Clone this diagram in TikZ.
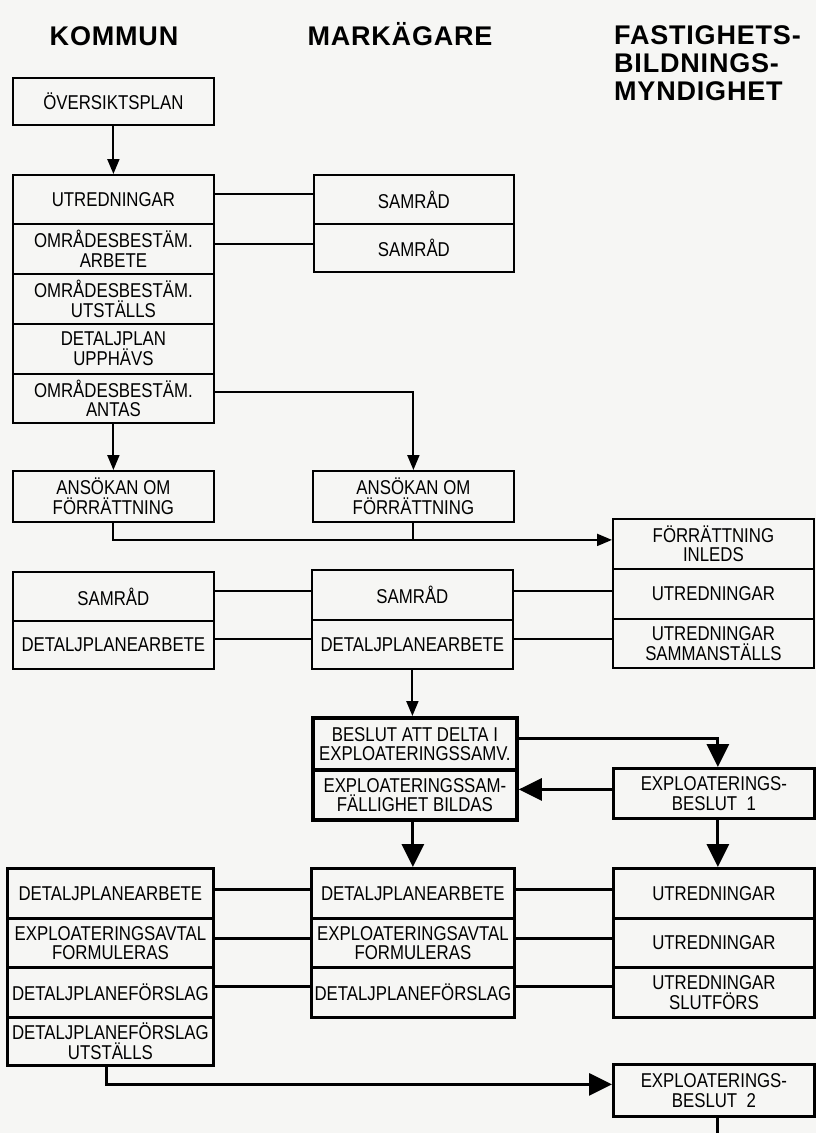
\documentclass[tikz,border=0pt]{standalone}
\usepackage{fontspec}
\setmainfont{Liberation Sans}
\newfontfamily\boxfont{Liberation Sans}[FakeStretch=0.84]
\newfontfamily\headfont{Liberation Sans}[LetterSpace=3]
\usetikzlibrary{arrows.meta}

\definecolor{paper}{RGB}{246,246,244}

\tikzset{
  box/.style={draw, rectangle, inner sep=0pt, align=center, line width=1.8pt,
    font=\boxfont\fontsize{20}{19.5}\selectfont},
  boldbox/.style={line width=2.8pt},
  heavy/.style={line width=3.8pt},
  head/.style={inner sep=0pt, font=\headfont\fontsize{27}{27}\selectfont\bfseries},
  conn/.style={line width=2pt},
  thick conn/.style={line width=3pt},
  arr/.style={-{Triangle[length=15pt,width=12pt]}},
  bigarr/.style={-{Triangle[length=23pt,width=22pt]}},
}

% \bx[style]{name}{x,y of top-left}{width}{height}{text}
\newcommand{\bx}[6][]{%
  \node[box,#1,minimum width=#4pt,minimum height=#5pt,anchor=north west] (#2) at (#3) {#6};}

\begin{document}
\begin{tikzpicture}[x=1pt,y=-1pt]
\fill[paper] (0,0) rectangle (816,1133);
\useasboundingbox (0,0) rectangle (816,1133);

% column headings
\node[head,anchor=base] (hk) at (114,45) {KOMMUN};
\node[head,anchor=base] (hm) at (400,45) {MARKÄGARE};
\node[head,anchor=base west] (hf1) at (614,44) {FASTIGHETS-};
\node[head,anchor=base west] (hf2) at (614,72) {BILDNINGS-};
\node[head,anchor=base west] (hf3) at (614,100) {MYNDIGHET};

% planning stage
\bx{ovp}{12,77}{201}{47}{ÖVERSIKTSPLAN}
\bx{k1}{12,174}{201}{49}{UTREDNINGAR}
\bx{k2}{12,223}{201}{50}{OMRÅDESBESTÄM.\\ARBETE}
\bx{k3}{12,273}{201}{50}{OMRÅDESBESTÄM.\\UTSTÄLLS}
\bx{k4}{12,323}{201}{50}{DETALJPLAN\\UPPHÄVS}
\bx{k5}{12,373}{201}{49}{OMRÅDESBESTÄM.\\ANTAS}
\bx{m1}{313,174}{200}{49}{SAMRÅD}
\bx{m2}{313,223}{200}{48}{SAMRÅD}

% application
\bx{ka}{12,470}{201}{51}{ANSÖKAN OM\\FÖRRÄTTNING}
\bx{ma}{312,470}{201}{51}{ANSÖKAN OM\\FÖRRÄTTNING}
\bx{f1}{612,518}{201}{50}{FÖRRÄTTNING\\INLEDS}
\bx{f2}{612,568}{201}{50}{UTREDNINGAR}
\bx{f3}{612,618}{201}{49}{UTREDNINGAR\\SAMMANSTÄLLS}
\bx{ks}{12,571}{201}{49}{SAMRÅD}
\bx{kd}{12,620}{201}{48}{DETALJPLANEARBETE}
\bx{ms}{311,569}{201}{50}{SAMRÅD}
\bx{md}{311,619}{201}{49}{DETALJPLANEARBETE}

% exploitation
\bx[heavy]{b1}{311,716}{204}{52}{BESLUT ATT DELTA I\\EXPLOATERINGSSAMV.}
\bx[heavy]{b2}{311,768}{204}{50}{EXPLOATERINGSSAM-\\FÄLLIGHET BILDAS}
\bx[boldbox]{e1}{612,767}{201}{50}{EXPLOATERINGS-\\BESLUT\ \ 1}

\bx[boldbox]{kb1}{6,867}{206}{50}{DETALJPLANEARBETE}
\bx[boldbox]{kb2}{6,917}{206}{49}{EXPLOATERINGSAVTAL\\FORMULERAS}
\bx[boldbox]{kb3}{6,966}{206}{50}{DETALJPLANEFÖRSLAG}
\bx[boldbox]{kb4}{6,1016}{206}{48}{DETALJPLANEFÖRSLAG\\UTSTÄLLS}
\bx[boldbox]{mb1}{310,867}{203}{50}{DETALJPLANEARBETE}
\bx[boldbox]{mb2}{310,917}{203}{49}{EXPLOATERINGSAVTAL\\FORMULERAS}
\bx[boldbox]{mb3}{310,966}{203}{50}{DETALJPLANEFÖRSLAG}
\bx[boldbox]{fb1}{612,867}{201}{50}{UTREDNINGAR}
\bx[boldbox]{fb2}{612,917}{201}{49}{UTREDNINGAR}
\bx[boldbox]{fb3}{612,966}{201}{50}{UTREDNINGAR\\SLUTFÖRS}
\bx[boldbox]{e2}{612,1063}{201}{52}{EXPLOATERINGS-\\BESLUT\ \ 2}

% connectors: planning
\draw[conn,arr] (ovp.south) -- (k1.north);
\draw[conn] ([yshift=5.5pt]k1.east) -- ([yshift=5.5pt]k1.east -| m1.west);
\draw[conn] ([yshift=5pt]k2.east) -- ([yshift=5pt]k2.east -| m2.west);
\draw[conn,arr] ([yshift=6.5pt]k5.east) -| (ma.north);
\draw[conn,arr] (k5.south) -- (ka.north);

% connectors: application
\coordinate (fin) at ([yshift=4pt]f1.west);
\draw[conn,arr] (ka.south) |- (fin);
\draw[conn] (ma.south) -- (ma.south |- fin);
\draw[conn] ([yshift=5.5pt]ks.east) -- ([yshift=5.5pt]ks.east -| ms.west);
\draw[conn] ([yshift=5.5pt]ks.east -| ms.east) -- ([yshift=5.5pt]ks.east -| f2.west);
\draw[conn] ([yshift=6pt]kd.east) -- ([yshift=6pt]kd.east -| md.west);
\draw[conn] ([yshift=6pt]kd.east -| md.east) -- ([yshift=6pt]kd.east -| f3.west);
\draw[conn,arr] (md.south) -- (md.south |- b1.north);

% connectors: exploitation
\draw[thick conn,bigarr] ([yshift=5pt]b1.east) -| ([xshift=4pt]e1.north);
\draw[thick conn,bigarr] ([yshift=4pt]e1.west) -- ([yshift=4pt]e1.west -| b2.east);
\draw[thick conn,bigarr] (mb1.north |- b2.south) -- (mb1.north);
\draw[thick conn,bigarr] ([xshift=4pt]e1.south) -- ([xshift=4pt]e1.south |- fb1.north);
\draw[thick conn] ([yshift=4pt]kb1.east) -- ([yshift=4pt]kb1.east -| mb1.west);
\draw[thick conn] ([yshift=4pt]kb1.east -| mb1.east) -- ([yshift=4pt]kb1.east -| fb1.west);
\draw[thick conn] ([yshift=4.5pt]kb2.east) -- ([yshift=4.5pt]kb2.east -| mb2.west);
\draw[thick conn] ([yshift=4.5pt]kb2.east -| mb2.east) -- ([yshift=4.5pt]kb2.east -| fb2.west);
\draw[thick conn] ([yshift=6pt]kb3.east) -- ([yshift=6pt]kb3.east -| mb3.west);
\draw[thick conn] ([yshift=6pt]kb3.east -| mb3.east) -- ([yshift=6pt]kb3.east -| fb3.west);
\draw[thick conn,bigarr] ([xshift=-4pt]kb4.south) |- ([yshift=6pt]e2.west);
\coordinate (cont) at (716,1133);
\draw[thick conn] ([xshift=4pt]e2.south) -- ([xshift=4pt]e2.south |- cont);
\end{tikzpicture}
\end{document}
